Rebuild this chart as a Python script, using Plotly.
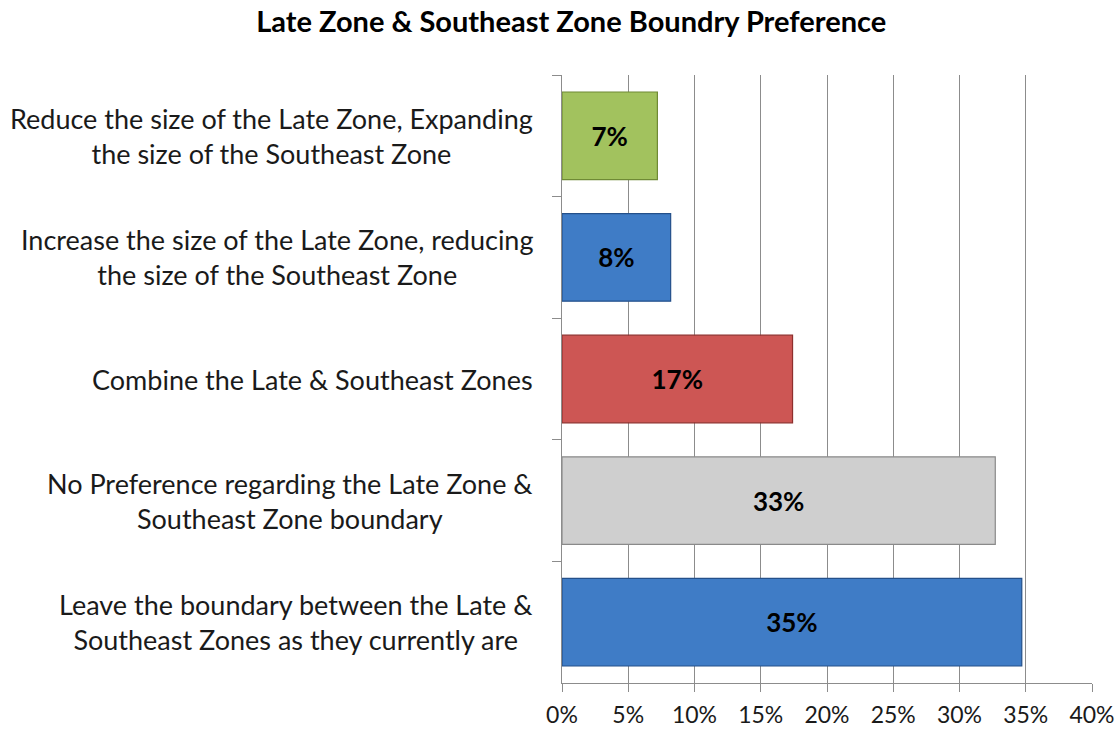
import plotly.graph_objects as go

categories = [
    "Reduce the size of the Late Zone, Expanding<br>the size of the Southeast Zone",
    "Increase the size of the Late Zone, reducing<br>the size of the Southeast Zone",
    "Combine the Late & Southeast Zones",
    "No Preference regarding the Late Zone &<br>Southeast Zone boundary",
    "Leave the boundary between the Late &<br>Southeast Zones as they currently are",
]
values = [0.072, 0.082, 0.174, 0.327, 0.347]
bar_colors = ["#A2C25E", "#3F7CC6", "#CD5654", "#CFCFCF", "#3F7CC6"]
line_colors = ["#6F8A35", "#24508A", "#8E2F2D", "#8A8A8A", "#24508A"]
x_ticks = [0, 0.05, 0.10, 0.15, 0.20, 0.25, 0.30, 0.35, 0.40]
x_tick_labels = ["0%", "5%", "10%", "15%", "20%", "25%", "30%", "35%", "40%"]
title = "Late Zone & Southeast Zone Boundry Preference"

FONT = "Lato, Carlito, Calibri, sans-serif"

fig = go.Figure(
    go.Bar(
        x=values,
        y=categories,
        orientation="h",
        marker=dict(color=bar_colors, line=dict(color=line_colors, width=1.2)),
        texttemplate="<b>%{x:.0%}</b>",
        textposition="inside",
        insidetextanchor="middle",
        textangle=0,
        textfont=dict(family=FONT, size=26, color="#000000"),
        hoverinfo="skip",
        width=0.72,
    )
)

for c in categories:
    fig.add_annotation(
        x=0, xref="paper", y=c, yref="y",
        text=c, showarrow=False, align="center",
        xanchor="right", yanchor="middle", xshift=-27,
        font=dict(family=FONT, size=27, color="#1a1a1a"),
    )

fig.update_layout(
    width=1120, height=729,
    margin=dict(l=562, r=28, t=75, b=46, autoexpand=False),
    paper_bgcolor="white", plot_bgcolor="white",
    title=dict(
        text=f"<b>{title}</b>", x=0.51, xref="container", xanchor="center",
        y=0.97, yref="container", yanchor="middle",
        font=dict(family=FONT, size=29, color="#000000"),
    ),
    showlegend=False,
    bargap=0.28,
)

fig.update_xaxes(
    range=[0, 0.40], tickvals=x_ticks, ticktext=x_tick_labels,
    automargin=False,
    showgrid=True, gridcolor="#8C8C8C", gridwidth=1.4,
    zeroline=False, showline=True, linecolor="#8C8C8C", linewidth=1.4,
    ticks="outside", ticklen=8, tickcolor="#8C8C8C", tickwidth=1.4,
    tickfont=dict(family=FONT, size=23, color="#1a1a1a"),
    ticklabelstandoff=3,
)
fig.update_yaxes(
    autorange="reversed", showticklabels=False, automargin=False,
    showline=True, linecolor="#8C8C8C", linewidth=1.4,
    ticks="outside", ticklen=9, tickcolor="#8C8C8C", tickwidth=1.4,
    tickson="boundaries", showgrid=False,
)

fig.write_html(
    "out.html",
    config={"displayModeBar": False},
    post_script="document.body.style.margin='0';",
)
